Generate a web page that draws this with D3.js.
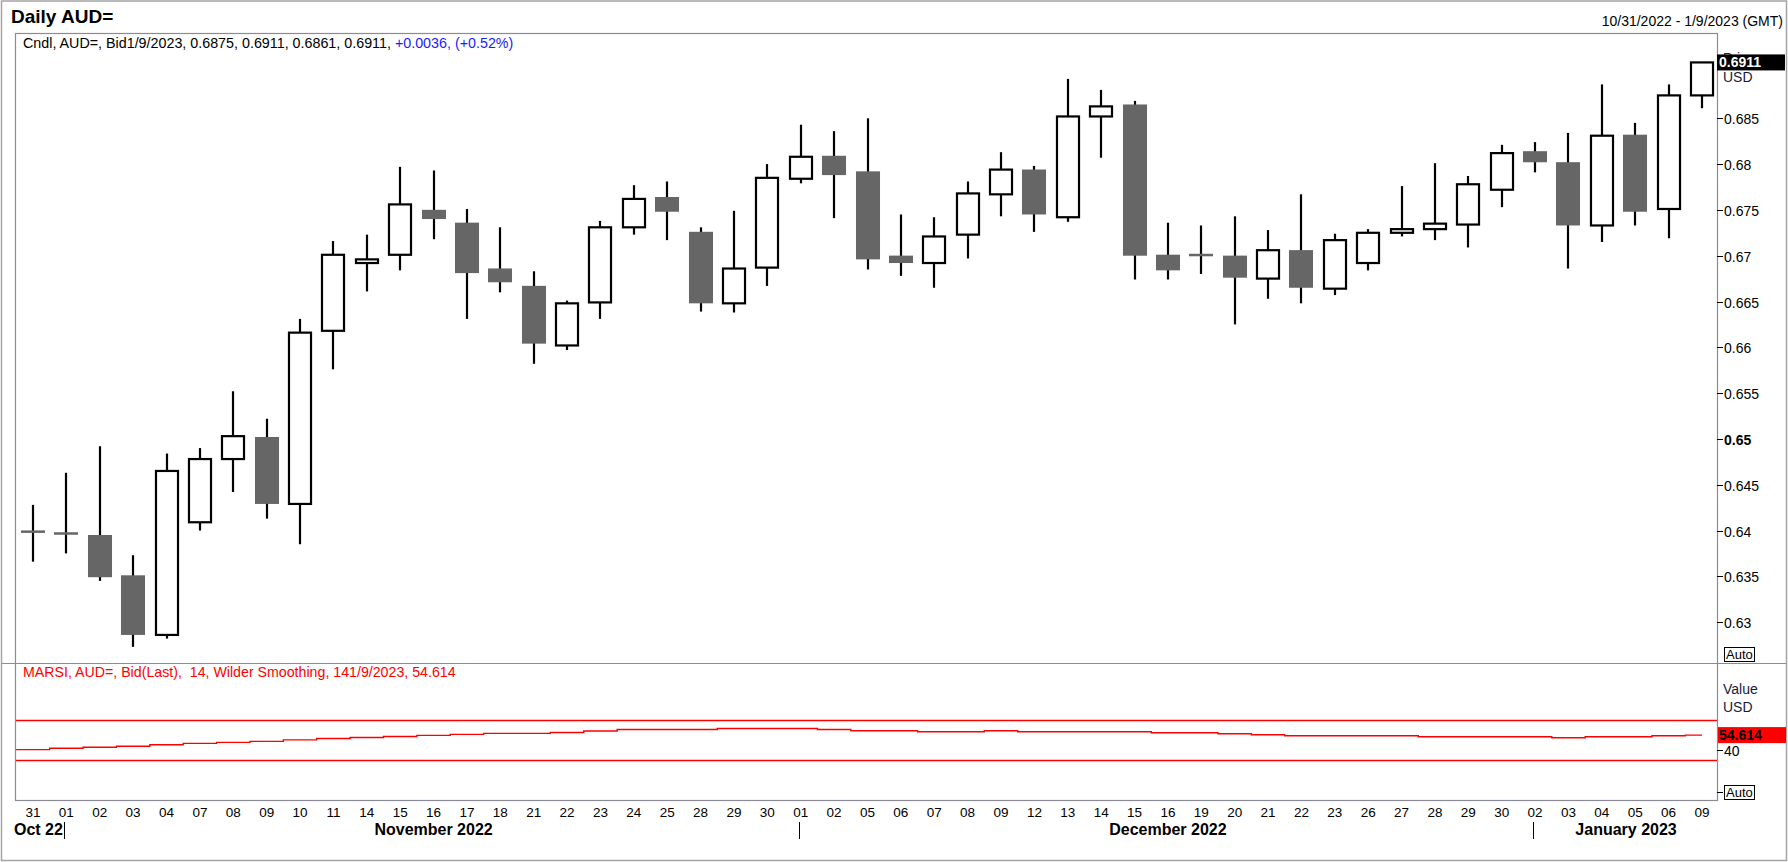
<!DOCTYPE html>
<html>
<head>
<meta charset="utf-8">
<script src="https://cdn.jsdelivr.net/npm/d3@7"></script>
<style>
  html, body { margin: 0; padding: 0; background: #fff; overflow: hidden; }
  svg text { font-family: "Liberation Sans", Arial, sans-serif; }
</style>
</head>
<body>
<div class="vis-candles"></div>
<script>
// trading days shown on the chart
const dates = [
  "2022-10-31",
  "2022-11-01", "2022-11-02", "2022-11-03", "2022-11-04", "2022-11-07", "2022-11-08", "2022-11-09",
  "2022-11-10", "2022-11-11", "2022-11-14", "2022-11-15", "2022-11-16", "2022-11-17", "2022-11-18",
  "2022-11-21", "2022-11-22", "2022-11-23", "2022-11-24", "2022-11-25", "2022-11-28", "2022-11-29",
  "2022-11-30",
  "2022-12-01", "2022-12-02", "2022-12-05", "2022-12-06", "2022-12-07", "2022-12-08", "2022-12-09",
  "2022-12-12", "2022-12-13", "2022-12-14", "2022-12-15", "2022-12-16", "2022-12-19", "2022-12-20",
  "2022-12-21", "2022-12-22", "2022-12-23", "2022-12-26", "2022-12-27", "2022-12-28", "2022-12-29",
  "2022-12-30",
  "2023-01-02", "2023-01-03", "2023-01-04", "2023-01-05", "2023-01-06", "2023-01-09"
];

const openPrice = [
  0.6399,
  0.6397, 0.6394, 0.6350, 0.6286, 0.6409, 0.6478, 0.6501, 0.6429, 0.6618, 0.6692, 0.6701, 0.6749,
  0.6735, 0.6685, 0.6666, 0.6602, 0.6649, 0.6731, 0.6763, 0.6725, 0.6648, 0.6687,
  0.6784, 0.6808, 0.6791, 0.6699, 0.6692, 0.6723, 0.6767, 0.6793, 0.6742, 0.6852, 0.6864, 0.6700,
  0.6701, 0.6699, 0.6675, 0.6705, 0.6664, 0.6692, 0.6725, 0.6729, 0.6734, 0.6772,
  0.6813, 0.6801, 0.6733, 0.6831, 0.6751, 0.6875
];
const highPrice = [
  0.6428,
  0.6463, 0.6492, 0.6373, 0.6484, 0.6490, 0.6552, 0.6522, 0.6631, 0.6716, 0.6723, 0.6797, 0.6793,
  0.6751, 0.6731, 0.6683, 0.6651, 0.6738, 0.6777, 0.6781, 0.6731, 0.6749, 0.6800,
  0.6843, 0.6836, 0.6850, 0.6745, 0.6742, 0.6781, 0.6813, 0.6798, 0.6893, 0.6881, 0.6869, 0.6736,
  0.6733, 0.6743, 0.6728, 0.6767, 0.6724, 0.6729, 0.6776, 0.6801, 0.6787, 0.6821,
  0.6824, 0.6834, 0.6887, 0.6845, 0.6887, 0.6911
];
const lowPrice = [
  0.6366,
  0.6375, 0.6345, 0.6273, 0.6282, 0.6400, 0.6442, 0.6413, 0.6385, 0.6576, 0.6661, 0.6684, 0.6718,
  0.6631, 0.6660, 0.6582, 0.6597, 0.6631, 0.6723, 0.6717, 0.6639, 0.6638, 0.6667,
  0.6779, 0.6741, 0.6685, 0.6678, 0.6665, 0.6697, 0.6743, 0.6726, 0.6737, 0.6807, 0.6674, 0.6674,
  0.6680, 0.6625, 0.6653, 0.6648, 0.6657, 0.6684, 0.6721, 0.6717, 0.6709, 0.6753,
  0.6791, 0.6686, 0.6715, 0.6733, 0.6719, 0.6861
];
const closePrice = [
  0.6398,
  0.6396, 0.6349, 0.6286, 0.6465, 0.6478, 0.6503, 0.6429, 0.6616, 0.6701, 0.6696, 0.6756, 0.6740,
  0.6681, 0.6671, 0.6604, 0.6648, 0.6731, 0.6762, 0.6748, 0.6648, 0.6686, 0.6785,
  0.6808, 0.6788, 0.6696, 0.6692, 0.6721, 0.6768, 0.6794, 0.6745, 0.6852, 0.6863, 0.6700, 0.6684,
  0.6700, 0.6676, 0.6706, 0.6665, 0.6717, 0.6725, 0.6729, 0.6735, 0.6778, 0.6812,
  0.6802, 0.6733, 0.6831, 0.6748, 0.6875, 0.6911
];

// 14 day RSI (Wilder), value of the day before the first candle first
const rsiBefore = 40.2;
const rsiValues = [
  40.2,
  41.5, 42.5, 43.5, 45.0, 46.4, 47.4, 48.4, 49.9, 51.3, 52.3, 53.3, 54.3,
  55.3, 56.3, 56.3, 57.2, 58.7, 60.2, 60.2, 60.2, 61.2, 61.2,
  61.2, 60.2, 59.0, 59.0, 57.9, 57.9, 58.9, 57.9, 57.9, 57.9, 57.9, 56.9,
  56.9, 55.9, 54.9, 54.0, 54.0, 54.0, 54.0, 53.0, 53.0, 53.0,
  53.0, 52.0, 53.0, 53.0, 54.0, 54.614
];

const priceTicks = [0.63, 0.635, 0.64, 0.645, 0.65, 0.655, 0.66, 0.665, 0.67, 0.675, 0.68, 0.685];
const rsiTicks = [40];
const rsiBands = [30, 70];

const monthNames = ["Oct 22", "November 2022", "December 2022", "January 2023"];
const monthFirstDays = ["2022-10-31", "2022-11-01", "2022-12-01", "2023-01-02"];

const draw = () => {
  const width = 1788, height = 862;
  // plot box edges
  let box = { left: 15, right: 1717, top: 33, split: 663, bottom: 800 };

  let svg = d3
    .select(".vis-candles")
    .append("svg")
    .attr("width", width)
    .attr("height", height);

  let data = dates.map(function (d, i) {
    return { date: d, open: openPrice[i], high: highPrice[i], low: lowPrice[i], close: closePrice[i], rsi: rsiValues[i] };
  });

  let x = d3.scalePoint().domain(dates).range([33, 1702]);
  let y = d3.scaleLinear().domain([0.63, 0.685]).range([622.1, 118.3]);
  let yRsi = d3.scaleLinear().domain([30, 70]).range([759.9, 719.6]);
  let bodyW = x.step() * 0.72;

  // outer frame
  svg.append("rect")
    .attr("x", 1.5).attr("y", 1).attr("width", width - 3).attr("height", height - 2.5)
    .attr("fill", "none").attr("stroke", "#a4a4a4").attr("stroke-width", 1.5);

  svg.append("text")
    .attr("x", 11).attr("y", 23)
    .style("font-size", "19px").style("font-weight", "bold")
    .text("Daily AUD=");

  svg.append("text")
    .attr("x", 1783).attr("y", 26)
    .attr("text-anchor", "end")
    .style("font-size", "14px")
    .text("10/31/2022 - 1/9/2023 (GMT)");

  let defs = svg.append("defs");
  defs.append("clipPath").attr("id", "clipPrice").append("rect")
    .attr("x", box.left).attr("y", box.top)
    .attr("width", box.right - box.left).attr("height", box.split - box.top);
  defs.append("clipPath").attr("id", "clipRsi").append("rect")
    .attr("x", box.left).attr("y", box.split)
    .attr("width", box.right - box.left).attr("height", box.bottom - box.split);

  // candles
  let candles = svg.append("g").attr("clip-path", "url(#clipPrice)")
    .selectAll("g.candle")
    .data(data)
    .enter()
    .append("g")
    .attr("class", "candle");

  candles.append("line")
    .attr("x1", function (d) { return Math.round(x(d.date)); })
    .attr("x2", function (d) { return Math.round(x(d.date)); })
    .attr("y1", function (d) { return y(d.high); })
    .attr("y2", function (d) { return y(d.low); })
    .attr("stroke", "#000")
    .attr("stroke-width", 2.2);

  candles.append("rect")
    .attr("x", function (d) {
      return d.close > d.open ? Math.round(x(d.date)) - bodyW / 2 + 1 : Math.round(x(d.date)) - bodyW / 2;
    })
    .attr("width", function (d) { return d.close > d.open ? bodyW - 2 : bodyW; })
    .attr("y", function (d) { return d.close > d.open ? y(d.close) : y(d.open) - 1; })
    .attr("height", function (d) {
      return d.close > d.open ? y(d.open) - y(d.close) : Math.max(2.5, y(d.close) - y(d.open) + 1);
    })
    .attr("fill", function (d) { return d.close > d.open ? "#fff" : "#666666"; })
    .attr("stroke", function (d) { return d.close > d.open ? "#000" : "none"; })
    .attr("stroke-width", 2.2);

  // RSI pane
  let gRsi = svg.append("g").attr("clip-path", "url(#clipRsi)");
  gRsi.selectAll("line.band")
    .data(rsiBands)
    .enter()
    .append("line")
    .attr("class", "band")
    .attr("x1", box.left).attr("x2", box.right)
    .attr("y1", function (d) { return Math.round(yRsi(d)) + 0.5; })
    .attr("y2", function (d) { return Math.round(yRsi(d)) + 0.5; })
    .attr("stroke", "#ff0000")
    .attr("stroke-width", 1.4);

  let rsiPoints = [{ x: x(dates[0]) - x.step(), v: rsiBefore }].concat(
    data.map(function (d) { return { x: x(d.date), v: d.rsi }; })
  );
  gRsi.append("path")
    .datum(rsiPoints)
    .attr("fill", "none")
    .attr("stroke", "#ff0000")
    .attr("stroke-width", 1.4)
    .attr("d", d3.line()
      .curve(d3.curveStep)
      .x(function (d) { return d.x; })
      .y(function (d) { return yRsi(d.v); }));

  // box and pane split
  svg.append("rect")
    .attr("x", box.left + 0.5).attr("y", box.top + 0.5)
    .attr("width", box.right - box.left).attr("height", box.bottom - box.top)
    .attr("fill", "none").attr("stroke", "#8b8b98").attr("stroke-width", 1.2);
  svg.append("line")
    .attr("x1", 2).attr("x2", width - 2)
    .attr("y1", box.split + 0.5).attr("y2", box.split + 0.5)
    .attr("stroke", "#8b8b98").attr("stroke-width", 1.2);

  // header lines
  let header = svg.append("text")
    .attr("x", 23).attr("y", 48)
    .style("font-size", "14.3px");
  header.append("tspan").attr("fill", "#000")
    .text("Cndl, AUD=, Bid1/9/2023, 0.6875, 0.6911, 0.6861, 0.6911, ");
  header.append("tspan").attr("fill", "#1c1cff")
    .text("+0.0036, (+0.52%)");

  svg.append("text")
    .attr("x", 23).attr("y", 677)
    .attr("fill", "#ff0000")
    .style("font-size", "14.2px")
    .style("white-space", "pre")
    .attr("xml:space", "preserve")
    .text("MARSI, AUD=, Bid(Last),  14, Wilder Smoothing, 141/9/2023, 54.614");

  // price axis
  let yAxis = svg.append("g").attr("transform", "translate(" + box.right + ",0)");
  let pt = yAxis.selectAll("g.tick")
    .data(priceTicks)
    .enter()
    .append("g")
    .attr("class", "tick")
    .attr("transform", function (d) { return "translate(0," + (Math.round(y(d)) + 0.5) + ")"; });
  pt.append("line").attr("x1", 0).attr("x2", 6).attr("stroke", "#000");
  pt.append("text")
    .attr("x", 7).attr("y", 5)
    .style("font-size", "14px")
    .style("font-weight", function (d) { return d === 0.65 ? "bold" : "normal"; })
    .text(function (d) { return d3.format(".3~f")(d); });

  // "Price" sits mostly hidden behind the last value box, as in the source
  yAxis.append("text")
    .attr("x", 6).attr("y", 63)
    .attr("fill", "#1a1a3a")
    .style("font-size", "14px")
    .text("Price");
  let last = data[data.length - 1];
  yAxis.append("rect")
    .attr("x", 0).attr("y", y(last.close) - 8)
    .attr("width", 68).attr("height", 16)
    .attr("fill", "#000");
  yAxis.append("text")
    .attr("x", 2).attr("y", y(last.close) + 5)
    .attr("fill", "#fff")
    .style("font-size", "14px").style("font-weight", "bold")
    .text(d3.format(".4f")(last.close));
  yAxis.append("text")
    .attr("x", 6).attr("y", 82)
    .attr("fill", "#1a1a3a")
    .style("font-size", "14px")
    .text("USD");

  function autoBox(g, top, withTick) {
    if (withTick) {
      g.append("line")
        .attr("x1", 0).attr("x2", 6)
        .attr("y1", top + 7.5).attr("y2", top + 7.5)
        .attr("stroke", "#000");
    }
    g.append("rect")
      .attr("x", 7.5).attr("y", top + 0.5)
      .attr("width", 30).attr("height", 14)
      .attr("fill", "#fff").attr("stroke", "#000");
    g.append("text")
      .attr("x", 9).attr("y", top + 12)
      .style("font-size", "13px")
      .text("Auto");
  }
  autoBox(yAxis, 647, false);

  // RSI axis
  let rAxis = svg.append("g").attr("transform", "translate(" + box.right + ",0)");
  rAxis.append("text").attr("x", 6).attr("y", 694).style("font-size", "14px").attr("fill", "#1a1a3a").text("Value");
  rAxis.append("text").attr("x", 6).attr("y", 712).style("font-size", "14px").attr("fill", "#1a1a3a").text("USD");
  let rt = rAxis.selectAll("g.tick")
    .data(rsiTicks)
    .enter()
    .append("g")
    .attr("class", "tick")
    .attr("transform", function (d) { return "translate(0," + (Math.round(yRsi(d)) + 0.5) + ")"; });
  rt.append("line").attr("x1", 0).attr("x2", 6).attr("stroke", "#000");
  rt.append("text").attr("x", 7).attr("y", 5).style("font-size", "14px").text(function (d) { return d; });
  rAxis.append("rect")
    .attr("x", 1).attr("y", yRsi(last.rsi) - 8)
    .attr("width", 68).attr("height", 16)
    .attr("fill", "#ff0000");
  rAxis.append("text")
    .attr("x", 2).attr("y", yRsi(last.rsi) + 5)
    .style("font-size", "14px").style("font-weight", "bold")
    .text(d3.format(".3f")(last.rsi));
  autoBox(rAxis, 785, true);

  // day labels
  let fmtDay = d3.timeFormat("%d");
  let parse = d3.timeParse("%Y-%m-%d");
  svg.append("g")
    .selectAll("text")
    .data(dates)
    .enter()
    .append("text")
    .attr("x", function (d) { return x(d); })
    .attr("y", 817)
    .attr("text-anchor", "middle")
    .style("font-size", "13.5px")
    .text(function (d) { return fmtDay(parse(d)); });

  // month dividers and labels
  let months = svg.append("g");
  monthFirstDays.forEach(function (d, i) {
    let xs = Math.round(x(d)) - 1.5;
    let xe = i < monthFirstDays.length - 1 ? x(monthFirstDays[i + 1]) : box.right;
    if (i > 0) {
      months.append("line")
        .attr("x1", xs).attr("x2", xs)
        .attr("y1", 822).attr("y2", 839)
        .attr("stroke", "#000");
    }
    months.append("text")
      .attr("x", i === 0 ? 14 : (x(d) + xe) / 2)
      .attr("y", 835)
      .attr("text-anchor", i === 0 ? "start" : "middle")
      .style("font-size", "16px").style("font-weight", "bold")
      .text(monthNames[i]);
  });
};

draw();
</script>
</body>
</html>
